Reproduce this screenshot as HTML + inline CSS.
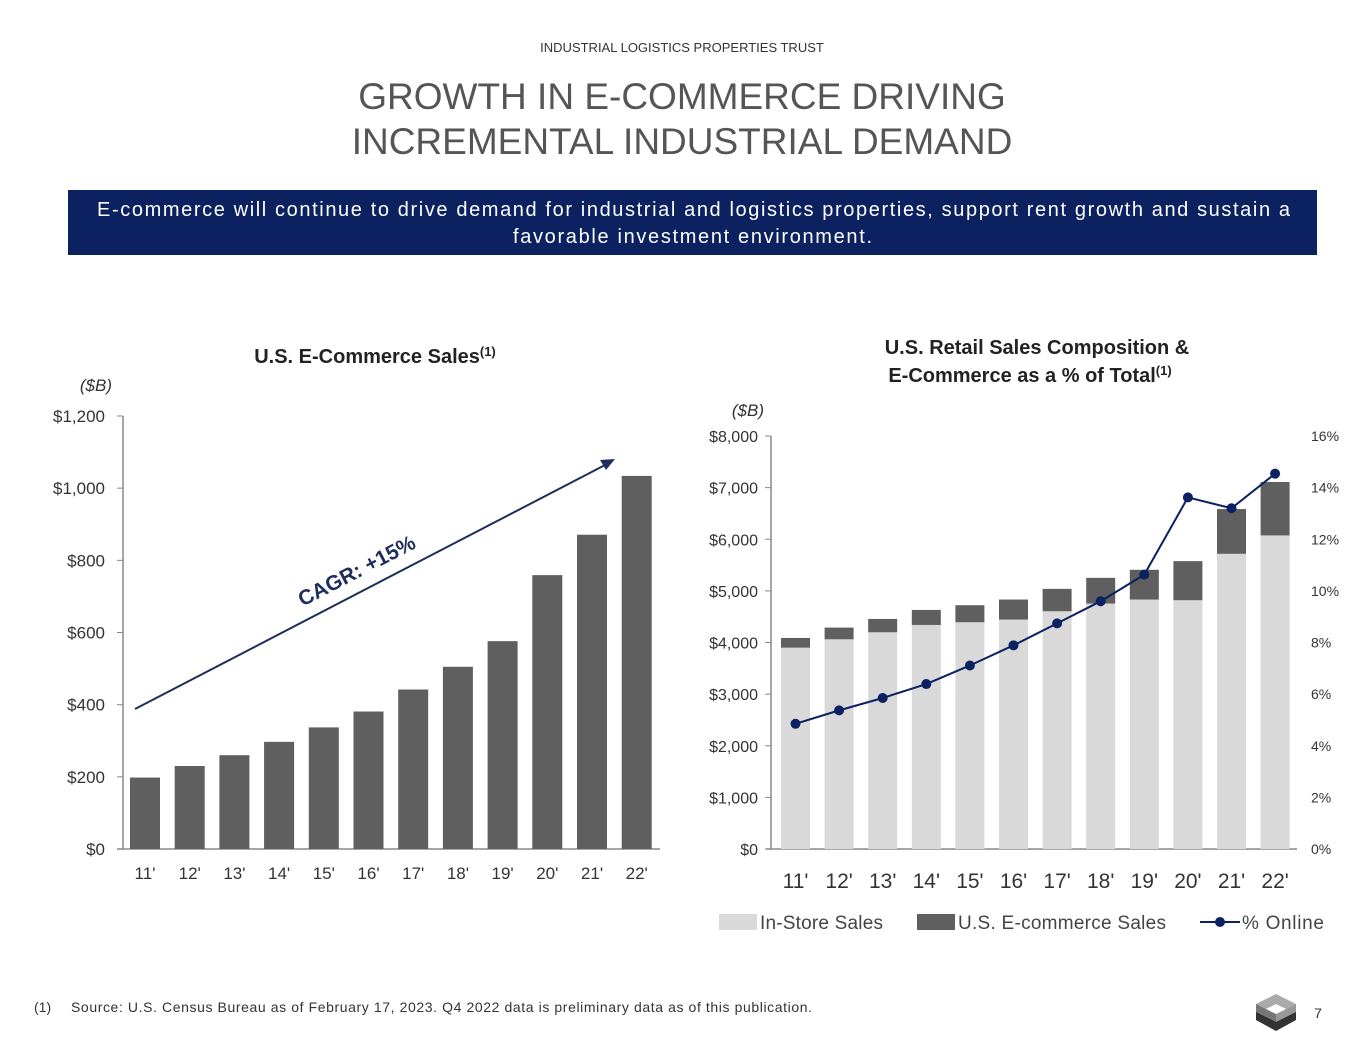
<!DOCTYPE html>
<html><head><meta charset="utf-8"><style>
body{margin:0;background:#fff;font-family:"Liberation Sans",sans-serif;}
svg{display:block}
</style></head><body>
<svg width="1365" height="1055" viewBox="0 0 1365 1055">
<text x="682" y="52" text-anchor="middle" font-size="13" fill="#333">INDUSTRIAL LOGISTICS PROPERTIES TRUST</text>
<text x="682" y="109" text-anchor="middle" font-size="37" fill="#555">GROWTH IN E-COMMERCE DRIVING</text>
<text x="682" y="154" text-anchor="middle" font-size="37" fill="#555">INCREMENTAL INDUSTRIAL DEMAND</text>
<rect x="68" y="190" width="1249" height="65" fill="#0b2160"/>
<text x="97" y="216" font-size="20" fill="#fff" textLength="1193" lengthAdjust="spacing">E-commerce will continue to drive demand for industrial and logistics properties, support rent growth and sustain a</text>
<text x="513" y="243" font-size="20" fill="#fff" textLength="359" lengthAdjust="spacing">favorable investment environment.</text>

<text x="375" y="363" text-anchor="middle" font-size="20" font-weight="bold" fill="#222">U.S. E-Commerce Sales<tspan font-size="13" dy="-7">(1)</tspan></text>
<text x="112" y="391" text-anchor="end" font-size="17" font-style="italic" fill="#333">($B)</text>
<g id="left"></g>

<text x="1037" y="354" text-anchor="middle" font-size="20" font-weight="bold" fill="#222">U.S. Retail Sales Composition &amp;</text>
<text x="1030" y="382" text-anchor="middle" font-size="20" font-weight="bold" fill="#222">E-Commerce as a % of Total<tspan font-size="13" dy="-7">(1)</tspan></text>
<text x="764" y="416" text-anchor="end" font-size="17" font-style="italic" fill="#333">($B)</text>
<g id="right"></g>

<g>
<rect x="719" y="914" width="38" height="16" fill="#d9d9d9"/>
<text x="760" y="929" font-size="19" fill="#444" textLength="123">In-Store Sales</text>
<rect x="917" y="914" width="38" height="16" fill="#5f5f5f"/>
<text x="958" y="929" font-size="19" fill="#444" textLength="208">U.S. E-commerce Sales</text>
<line x1="1200" y1="922" x2="1240" y2="922" stroke="#0b2160" stroke-width="2"/>
<circle cx="1220" cy="922" r="5" fill="#0b2160"/>
<text x="1242" y="929" font-size="19" fill="#444" textLength="82">% Online</text>
</g>

<text x="34" y="1012" font-size="14" fill="#333">(1)</text>
<text x="71" y="1012" font-size="14" fill="#333" textLength="741" lengthAdjust="spacing">Source: U.S. Census Bureau as of February 17, 2023. Q4 2022 data is preliminary data as of this publication.</text>
<g>
<polygon points="1276,994 1296,1004 1276,1014 1256,1004" fill="#aaa"/>
<polygon points="1256,1004 1276,1014 1276,1030 1256,1020" fill="#777"/>
<polygon points="1296,1004 1276,1014 1276,1030 1296,1020" fill="#999"/>
<polygon points="1256,1012 1276,1022 1296,1012 1296,1020 1276,1031 1256,1020" fill="#333"/>
<polygon points="1276,1004 1286,1009 1276,1014 1266,1009" fill="#fff"/>
</g>
<text x="1318" y="1018" text-anchor="middle" font-size="14" fill="#333">7</text>
</svg>
<script>
const cats=["11'","12'","13'","14'","15'","16'","17'","18'","19'","20'","21'","22'"];
const ecomSales=[198,230,260,297,337,381,442,505,576,759,871,1034];
const leftTicks=[0,200,400,600,800,1000,1200];
const inStore=[3900,4062,4198,4340,4392,4444,4605,4754,4832,4819,5718,6074];
const ecomRetail=[188,227,259,291,330,388,434,498,576,757,867,1035];
const pctOnline=[4.85,5.37,5.85,6.39,7.11,7.89,8.74,9.6,10.63,13.62,13.2,14.54];
const rightTicks=[0,1000,2000,3000,4000,5000,6000,7000,8000];
const pctTicks=[0,2,4,6,8,10,12,14,16];
const NS="http://www.w3.org/2000/svg";
function mk(p,t,a){const e=document.createElementNS(NS,t);for(const k in a)e.setAttribute(k,a[k]);p.appendChild(e);return e;}
// left chart
const L=document.getElementById('left');
const ly=v=>849-v*(849-416)/1200, lx=i=>130+i*44.7;
mk(L,'line',{x1:123,y1:416,x2:123,y2:849,stroke:'#888','stroke-width':1.5});
mk(L,'line',{x1:117,y1:849,x2:660,y2:849,stroke:'#888','stroke-width':1.5});
leftTicks.forEach(t=>{
 mk(L,'line',{x1:117,y1:ly(t),x2:123,y2:ly(t),stroke:'#888'});
 const e=mk(L,'text',{x:105,y:ly(t)+6,'text-anchor':'end','font-size':17,fill:'#333'});
 e.textContent='$'+t.toLocaleString('en-US');
 
 
});
ecomSales.forEach((v,i)=>{
 const r=mk(L,'rect',{x:lx(i),y:ly(v),width:30,height:849-ly(v),fill:'#5f5f5f'});
 
 
 const t=mk(L,'text',{x:lx(i)+15,y:879,'text-anchor':'middle','font-size':17,fill:'#333'});
 t.textContent=cats[i];
 
 
});
const ar=mk(L,'line',{x1:135,y1:709,x2:607,y2:464,stroke:'#1f2d5c','stroke-width':2});


mk(L,'polygon',{points:'615,459 600,460 606,470',fill:'#1f2d5c'});
const cg=mk(L,'text',{x:360,y:577,'text-anchor':'middle','font-size':21,'font-weight':'bold',fill:'#1f2d5c',transform:'rotate(-27.5 360 577)'});
cg.textContent='CAGR: +15%';


// right chart
const R=document.getElementById('right');
const ry=v=>849-v*(849-436)/8000, py=p=>849-p*(849-436)/16, rx=i=>781+i*43.6;
mk(R,'line',{x1:771,y1:436,x2:771,y2:849,stroke:'#888','stroke-width':1.5});
mk(R,'line',{x1:766,y1:849,x2:1297,y2:849,stroke:'#888','stroke-width':1.5});
rightTicks.forEach(t=>{
 mk(R,'line',{x1:765,y1:ry(t),x2:771,y2:ry(t),stroke:'#888'});
 const e=mk(R,'text',{x:758,y:ry(t)+6,'text-anchor':'end','font-size':16,fill:'#333'});
 e.textContent='$'+t.toLocaleString('en-US');
 
 
});
pctTicks.forEach(t=>{
 const e=mk(R,'text',{x:1311,y:py(t)+5,'font-size':14,fill:'#333'});
 e.textContent=t+'%';
 
 
});
inStore.forEach((v,i)=>{
 const a=mk(R,'rect',{x:rx(i),y:ry(v),width:29,height:849-ry(v),fill:'#d9d9d9'});
 
 
 const top=v+ecomRetail[i];
 const b=mk(R,'rect',{x:rx(i),y:ry(top),width:29,height:ry(v)-ry(top),fill:'#5f5f5f'});
 
 
 const t=mk(R,'text',{x:rx(i)+14.5,y:888,'text-anchor':'middle','font-size':21,fill:'#333'});
 t.textContent=cats[i];
 
 
});
const pl=mk(R,'polyline',{points:pctOnline.map((p,i)=>(rx(i)+14.5)+','+py(p)).join(' '),fill:'none',stroke:'#0b2160','stroke-width':2});


pctOnline.forEach((p,i)=>{
 const c=mk(R,'circle',{cx:rx(i)+14.5,cy:py(p),r:5,fill:'#0b2160'});
 
 
});
</script>
</body></html>
